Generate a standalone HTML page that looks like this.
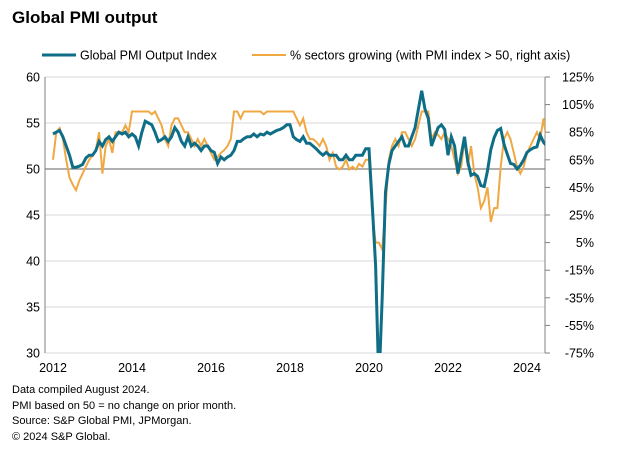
<!DOCTYPE html>
<html><head><meta charset="utf-8"><style>
body{margin:0;background:#fff;font-family:"Liberation Sans",Arial,sans-serif;}
#wrap{position:relative;width:627px;height:452px;overflow:hidden;}
.t{position:absolute;color:#000;white-space:nowrap;}
</style></head><body>
<div id="wrap">
<div class="t" style="left:12px;top:8px;font-size:17px;font-weight:bold">Global PMI output</div>
<svg id="c" width="627" height="452" style="position:absolute;left:0;top:0"></svg>
<div class="t" style="left:12px;top:383px;font-size:11px;line-height:15.5px">Data compiled August 2024.<br>PMI based on 50 = no change on prior month.<br>Source: S&amp;P Global PMI, JPMorgan.<br>© 2024 S&amp;P Global.</div>
</div>
<script>
const pmi=[53.8,54,54.2,53.5,52.5,51.5,50.2,50.2,50.3,50.5,51.2,51.5,
51.5,52,53,52.5,53.2,53.5,53,53.5,54,53.8,54,53.5,
53.8,53.5,52.5,54,55.2,55,54.8,54,53,53.2,53.5,53,
53.5,54.5,54,53,52.5,53.5,52.5,52.8,52.5,52,52.5,52.5,
52,51.8,50.6,51.3,51,51.3,51.5,52,53,53,53.3,53.5,
53.5,53.8,53.5,53.8,53.7,54,53.8,54,54.2,54.3,54.5,54.8,
54.8,53.5,53.2,53,53.5,52.8,52.8,52.5,52.2,51.8,51.5,51.8,
51.5,51.5,51.5,51,51,51.5,51,51,51.5,51.5,51.5,52.2,
52.2,46,39.5,26.5,36,47.5,50.5,52,52.5,53,53.5,52.5,
52.5,53.5,54.5,56.5,58.5,56.5,55.5,52.5,53.5,54.5,54.8,54.3,
51.5,53.5,52.5,49.5,51.5,53.5,50.8,49.3,49.5,49.2,48.2,48.1,
49.8,52.1,53.4,54.2,54.4,52.7,51.6,50.6,50.5,50,50.4,51,
51.8,52.1,52.3,52.4,53.7,52.9,52.5];
const pct=[65,85,88,80,65,52,47,43,50,55,60,65,
68,72,85,55,75,80,70,85,85,85,90,85,
100,100,100,100,100,100,98,100,95,90,80,75,
90,95,95,90,85,85,80,75,80,75,80,75,
70,65,67,70,72,75,80,100,100,95,100,100,
100,100,100,100,98,100,100,100,100,100,100,100,
100,100,95,90,95,85,80,80,78,75,80,75,
65,70,60,58,60,65,58,60,58,62,60,65,
65,25,5,5,0,30,65,75,80,75,85,85,
80,75,80,90,100,100,100,80,85,83,80,85,
80,75,65,55,60,80,60,75,55,45,30,35,
45,20,30,30,60,80,85,80,70,60,55,60,
70,75,80,85,80,95,78];
const leftTicks=[30,35,40,45,50,55,60];
const rightTicks=[-75,-55,-35,-15,5,25,45,65,85,105,125];
const years=[2012,2014,2016,2018,2020,2022,2024];
const ns="http://www.w3.org/2000/svg",svg=document.getElementById('c');
const X=i=>53+i*474/144, YL=v=>169-(v-50)*9.2, YR=p=>77+(125-p)*1.38;
function mk(t,a){const e=document.createElementNS(ns,t);for(const k in a)e.setAttribute(k,a[k]);svg.appendChild(e);return e;}
const cp=mk('clipPath',{id:'cl'});const r=document.createElementNS(ns,'rect');r.setAttribute('x',45);r.setAttribute('y',70);r.setAttribute('width',500);r.setAttribute('height',283);cp.appendChild(r);
for(const v of leftTicks){if(v===50)continue;const g=mk('line',{x1:45,x2:545,y1:YL(v),y2:YL(v),stroke:'#d9d9d9','stroke-width':1});

}
const b=mk('line',{x1:45,x2:545,y1:YL(50),y2:YL(50),stroke:'#808080','stroke-width':1.2});


mk('line',{x1:45,x2:45,y1:77,y2:353,stroke:'#808080'});
mk('line',{x1:545,x2:545,y1:77,y2:353,stroke:'#808080'});
for(const v of leftTicks){const t=mk('text',{x:40,y:YL(v)+4.5,'text-anchor':'end','font-size':12.5,fill:'#000'});t.textContent=v;

}
for(const p of rightTicks){mk('line',{x1:545,x2:550,y1:YR(p),y2:YR(p),stroke:'#808080'});const t=mk('text',{x:594,y:YR(p)+4.5,'text-anchor':'end','font-size':12.5,fill:'#000'});t.textContent=p+'%';

}
years.forEach((y,k)=>{const t=mk('text',{x:X(k*24),y:372,'text-anchor':'middle','font-size':12.5,fill:'#000'});t.textContent=y;

});
const lp=mk('path',{d:pct.map((v,i)=>(i?'L':'M')+X(i).toFixed(1)+','+YR(v).toFixed(1)).join(''),fill:'none',stroke:'#f0a843','stroke-width':2,'clip-path':'url(#cl)'});


const lm=mk('path',{d:pmi.map((v,i)=>(i?'L':'M')+X(i).toFixed(1)+','+YL(v).toFixed(1)).join(''),fill:'none',stroke:'#0f6e87','stroke-width':3,'clip-path':'url(#cl)'});


const l1=mk('line',{x1:42,x2:76,y1:55,y2:55,stroke:'#0f6e87','stroke-width':3});


const t1=mk('text',{x:80,y:59.5,'font-size':12.5});t1.textContent='Global PMI Output Index';


const l2=mk('line',{x1:252,x2:286,y1:55,y2:55,stroke:'#f0a843','stroke-width':2});


const t2=mk('text',{x:290,y:59.5,'font-size':12.5});t2.textContent='% sectors growing (with PMI index > 50, right axis)';


</script>
</body></html>
